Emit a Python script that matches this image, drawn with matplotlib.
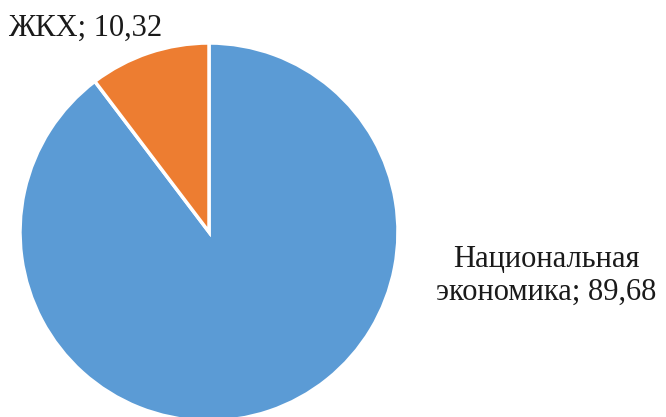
import matplotlib
matplotlib.use("Agg")
import matplotlib.pyplot as plt

labels = ["Национальная\nэкономика", "ЖКХ"]
values = [89.68, 10.32]
value_text = ["89,68", "10,32"]
colors = ["#5B9BD5", "#ED7D31"]

W, H = 666, 417
fig = plt.figure(figsize=(W / 100, H / 100), dpi=100)
ax = fig.add_axes([0, 0, 1, 1])

cx, cy, r = 209, H - 232, 189
ax.pie(values, colors=colors, startangle=90, counterclock=False,
       center=(cx, cy), radius=r, frame=True,
       wedgeprops=dict(edgecolor="white", linewidth=2.5))
ax.set_xlim(0, W)
ax.set_ylim(0, H)
ax.axis("off")

font = dict(family="Liberation Serif", fontsize=22, color="#1a1a1a")
ax.text(546, H - 276, f"{labels[0]}; {value_text[0]}", ha="center", va="center",
        linespacing=1.2, **font)
ax.text(8, H - 28, f"{labels[1]}; {value_text[1]}", ha="left", va="center", **font)

fig.savefig("out.png", dpi=100)
